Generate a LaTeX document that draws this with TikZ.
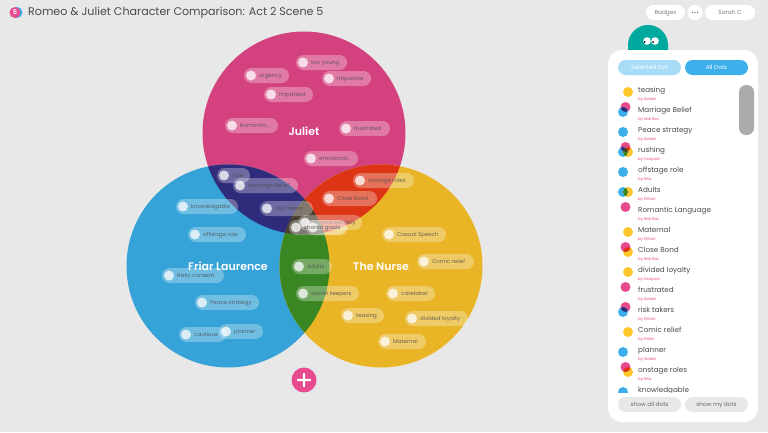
\documentclass[tikz,border=0pt]{standalone}
\usepackage{fontspec}
\setmainfont[BoldFont={Poppins SemiBold}]{Poppins}
\definecolor{bgray}{HTML}{E8E8E8}
\definecolor{jpink}{HTML}{D4417F}
\definecolor{fblue}{HTML}{35A2D8}
\definecolor{nyellow}{HTML}{E9B526}
\definecolor{jfnavy}{HTML}{2E2C7B}
\definecolor{jnred}{HTML}{DC3415}
\definecolor{fngreen}{HTML}{3A8622}
\definecolor{allmix}{HTML}{4A4032}
\definecolor{dotpink}{HTML}{E84A8E}
\definecolor{dotblue}{HTML}{3DB0EC}
\definecolor{dotyellow}{HTML}{FFC72C}
\definecolor{inktext}{HTML}{4A4A4A}
\definecolor{creature}{HTML}{00A99D}
\newcommand{\dotpill}[5]{% name, left, right, top, label
  \node[pillbox,minimum width=#3pt-#2pt] (#1) at ({(#2+#3)/2},{#4+7.5}) {};
  \node[pilldot] (#1dot) at (#2+7,#4+7.5) {};
  \node[pilltext] (#1txt) at (#2+15,#4+7.5) {#5};
}
\newcommand{\listrow}[3]{% name, y, author
  \node[rowtext] (#1) at (638,#2+1.2) {#1};
  \node[bytext] (#1by) at (638,#2+9.7) {by #3};
}
\tikzset{
  pillbox/.style={fill=white,fill opacity=0.3,rounded corners=7.5pt,minimum height=15pt,inner sep=0pt,draw=none},
  pilldot/.style={circle,fill=white,fill opacity=0.75,minimum size=10pt,inner sep=0pt},
  pilltext/.style={anchor=west,inner sep=0pt,text height=4pt,text depth=1pt,font=\fontsize{5.5}{7}\selectfont,text=inktext,text opacity=0.8},
  setname/.style={text=white,font=\fontsize{11}{14}\selectfont\bfseries,inner sep=0pt},
  rowtext/.style={anchor=west,inner sep=0pt,text height=5pt,text depth=1.5pt,font=\fontsize{7.2}{8}\selectfont,text=inktext},
  bytext/.style={anchor=west,inner sep=0pt,text height=3pt,text depth=1pt,font=\fontsize{4}{5}\selectfont,text=dotpink},
  btn/.style={rounded corners=7.5pt,minimum height=15pt,inner sep=0pt,text height=4pt,text depth=1pt,font=\fontsize{5.8}{7}\selectfont},
}
\begin{document}
\begin{tikzpicture}[x=1pt,y=-1pt]
  \path[use as bounding box,fill=bgray] (0,0) rectangle (768,432);
  % venn circles
  \fill[jpink] (304,133) circle (101.5);
  \fill[fblue] (228,266) circle (101.5);
  \fill[nyellow] (381,266) circle (101.5);
  \begin{scope}
    \clip (304,133) circle (101.5);
    \fill[jfnavy] (228,266) circle (101.5);
    \fill[jnred] (381,266) circle (101.5);
  \end{scope}
  \begin{scope}
    \clip (228,266) circle (101.5);
    \fill[fngreen] (381,266) circle (101.5);
    \clip (381,266) circle (101.5);
    \fill[allmix] (304,133) circle (101.5);
  \end{scope}
  % set names
  \node[setname] (juliet) at (304,131) {Juliet};
  \node[setname] (friar) at (228,266) {Friar Laurence};
  \node[setname] (nurse) at (381,266) {The Nurse};
  % dots
  \dotpill{tooyoung}{296}{347}{55}{too young}
  \dotpill{urgency}{244}{289}{68}{urgency}
  \dotpill{impulsive}{322}{371}{71}{impulsive}
  \dotpill{impatient}{264}{313}{87}{impatient}
  \dotpill{romantic}{225}{278}{118}{Romantic...}
  \dotpill{frustrated}{339}{390}{121}{frustrated}
  \dotpill{emotional}{304}{358}{151}{emotional...}
  \dotpill{lose}{217}{250}{168}{lose}
  \dotpill{marriage}{233}{298}{178}{Marriage Belief}
  \dotpill{onstage}{353}{414}{173}{onstage roles}
  \dotpill{closebond}{322}{377}{191}{Close Bond}
  \dotpill{risktakers}{260}{313}{201}{risk takers}
  \dotpill{knowledgable}{176}{238}{199}{knowledgable}
  \dotpill{offstage}{188}{246}{227}{offstage role}
  \dotpill{risky}{162}{224}{268}{Risky consent}
  \dotpill{peace}{195}{259}{295}{Peace strategy}
  \dotpill{cautious}{179}{226}{327}{cautious}
  \dotpill{planner}{219}{263}{324}{planner}
  \dotpill{secrecy}{298}{362}{215}{shared secrecy}
  \dotpill{rushing}{306}{348}{220}{}
  \dotpill{goals}{289}{346}{220}{shared goals}
  \dotpill{adults}{292}{332}{259}{Adults}
  \dotpill{keepers}{296}{359}{286}{secret keepers}
  \dotpill{casual}{382}{446}{227}{Casual Speech}
  \dotpill{comic}{417}{474}{254}{Comic relief}
  \dotpill{caretaker}{386}{435}{286}{caretaker}
  \dotpill{teasing}{341}{384}{308}{teasing}
  \dotpill{divided}{405}{468}{311}{divided loyalty}
  \dotpill{maternal}{378}{426}{334}{Maternal}
  % add button
  \node[circle,fill=dotpink,minimum size=25pt,inner sep=0pt] (addbtn) at (304,380) {};
  \fill[white,rounded corners=0.8pt] (297,378.8) rectangle (311,381.2);
  \fill[white,rounded corners=0.8pt] (302.8,373) rectangle (305.2,387);
  % header
  \fill[dotblue] (17,12.5) circle (5.5);
  \node[circle,fill=dotpink,minimum size=11pt,inner sep=0pt,text=white,font=\fontsize{7}{8}\selectfont\bfseries] (logo) at (15,12.5) {S};
  \node[anchor=west,inner sep=0pt,text height=7.5pt,text depth=2pt,text=inktext,font=\fontsize{11.1}{12}\selectfont] (title) at (28,12.5) {Romeo \& Juliet Character Comparison: Act 2 Scene 5};
  \node[btn,fill=white,text=gray,minimum width=39pt] (badges) at (665.5,12.5) {Badges};
  \node[circle,fill=white,minimum size=15pt,inner sep=0pt] (more) at (695,12.5) {};
  \foreach \i in {-2.5,0,2.5} \fill[black!70] (695+\i,12.5) circle (0.7);
  \node[btn,fill=white,text=gray,minimum width=50pt] (sarah) at (730,12.5) {Sarah C};
  % creature
  \fill[creature] (628,60) -- (628,45) arc (180:360:20) -- (668,60) -- cycle;
  \fill[white] (647,41) circle (3.8);
  \fill[white] (655,41) circle (3.8);
  \fill[black] (644.5,42) circle (1);
  \fill[black] (653,42) circle (1);
  % panel
  \node[fill=white,rounded corners=14pt,minimum width=150pt,minimum height=372pt,inner sep=0pt] (panel) at (683,236) {};
  \node[btn,fill=dotblue!45,text=white,minimum width=63pt] (selected) at (649.5,67.5) {Selected Dot};
  \node[btn,fill=dotblue,text=white,minimum width=63pt] (alldots) at (716.5,67.5) {All Dots};
  \begin{scope}
    \clip (610,82) rectangle (738,392);
    \listrow{teasing}{90}{Isaiah}
    \listrow{Marriage Belief}{110}{Maritza}
    \listrow{Peace strategy}{130}{Isaiah}
    \listrow{rushing}{150}{Daquan}
    \listrow{offstage role}{170}{Mia}
    \listrow{Adults}{190}{Ethan}
    \listrow{Romantic Language}{210}{Maritza}
    \listrow{Maternal}{230}{Ethan}
    \listrow{Close Bond}{250}{Maritza}
    \listrow{divided loyalty}{270}{Daquan}
    \listrow{frustrated}{290}{Isaiah}
    \listrow{risk takers}{310}{Ethan}
    \listrow{Comic relief}{330}{Peter}
    \listrow{planner}{350}{Isaiah}
    \listrow{onstage roles}{370}{Mia}
    \listrow{knowledgable}{390}{Isaiah}
    % row markers
    \foreach \y in {92,232,272,332} \fill[dotyellow] (628,\y) circle (5);
    \foreach \y in {132,172,352,392} \fill[dotblue] (623,\y) circle (5);
    \foreach \y in {207,287} \fill[dotpink] (625.5,\y) circle (5);
    % pink and blue
    \foreach \y in {112,312} {
      \fill[dotpink] (625.5,\y-5) circle (5);
      \fill[dotblue] (623,\y) circle (5);
      \begin{scope}
        \clip (625.5,\y-5) circle (5);
        \fill[jfnavy] (623,\y) circle (5);
      \end{scope}
    }
    % pink and yellow
    \foreach \y in {252,372} {
      \fill[dotyellow] (628,\y) circle (5);
      \fill[dotpink] (625.5,\y-5) circle (5);
      \begin{scope}
        \clip (625.5,\y-5) circle (5);
        \fill[jnred] (628,\y) circle (5);
      \end{scope}
    }
    % blue and yellow
    \fill[dotblue] (623,192) circle (5);
    \fill[dotyellow] (628,192) circle (5);
    \begin{scope}
      \clip (623,192) circle (5);
      \fill[fngreen] (628,192) circle (5);
    \end{scope}
    % all three
    \fill[dotpink] (625.5,147) circle (5);
    \fill[dotblue] (623,152) circle (5);
    \fill[dotyellow] (628,152) circle (5);
    \begin{scope}
      \clip (625.5,147) circle (5);
      \fill[jfnavy] (623,152) circle (5);
      \fill[jnred] (628,152) circle (5);
    \end{scope}
    \begin{scope}
      \clip (623,152) circle (5);
      \fill[fngreen] (628,152) circle (5);
      \clip (628,152) circle (5);
      \fill[allmix] (625.5,147) circle (5);
    \end{scope}
  \end{scope}
  % scroll thumb
  \node[fill=black!33,rounded corners=7pt,minimum width=15pt,minimum height=50pt,inner sep=0pt] (thumb) at (746.5,110) {};
  \node[btn,fill=bgray,text=black!60,minimum width=63pt] (showall) at (649.5,404.5) {show all dots};
  \node[btn,fill=bgray,text=black!60,minimum width=63pt] (showmy) at (716.5,404.5) {show my dots};
\end{tikzpicture}
\end{document}
